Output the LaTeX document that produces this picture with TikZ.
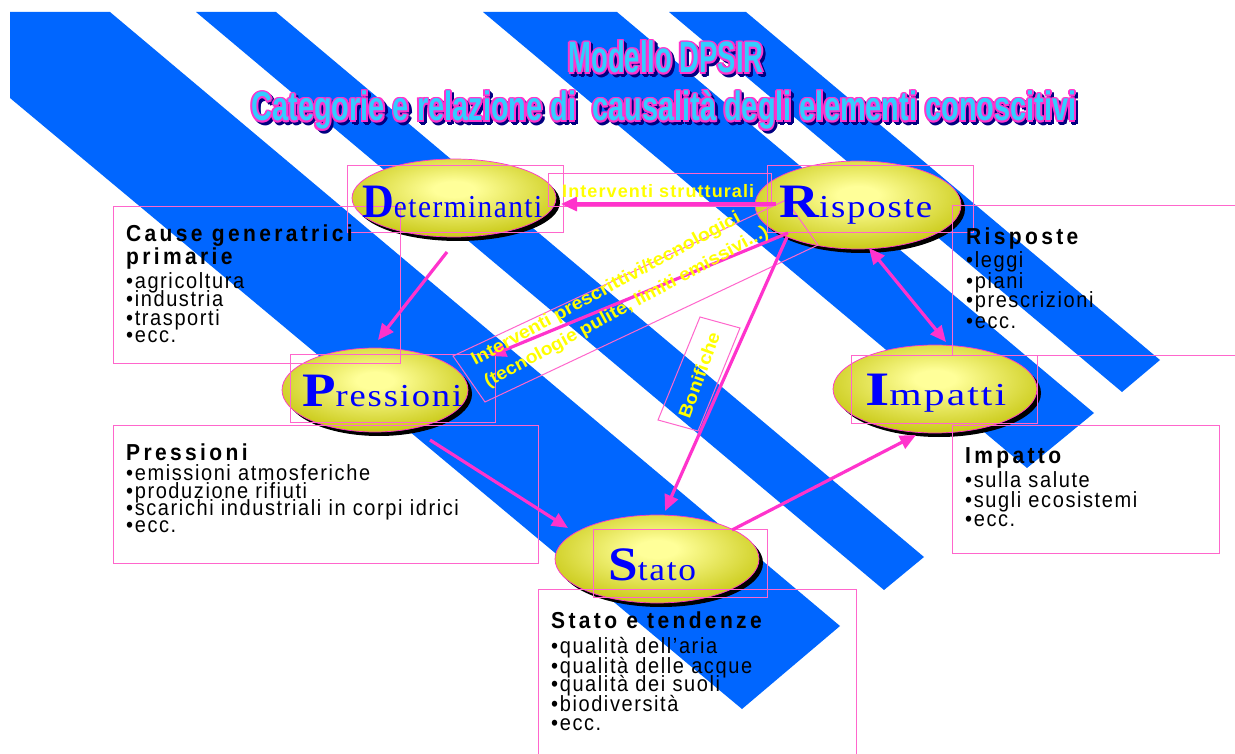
\documentclass[tikz,border=0pt]{standalone}
\usepackage{fontspec}
\usepackage{graphicx}
\setmainfont{Liberation Serif}
\newfontfamily\bodyf[LetterSpace=8]{Liberation Sans}
\newfontfamily\headf[LetterSpace=16]{Liberation Sans}
\newfontfamily\labf[LetterSpace=6]{Liberation Sans}
\newfontfamily\titf{Liberation Sans}
\newfontfamily\elf[LetterSpace=5]{Liberation Serif}
\usetikzlibrary{arrows.meta,shapes.geometric,shadows}
\definecolor{stripe}{HTML}{0066FF}
\definecolor{amag}{HTML}{FF33CC}
\definecolor{bmag}{HTML}{FF66CC}
\definecolor{ylab}{HTML}{FFFF00}
\definecolor{eblue}{HTML}{0000FF}
\definecolor{elin}{HTML}{FFFF99}
\definecolor{elout}{HTML}{C8C814}
\definecolor{tcyan}{HTML}{33CCFF}
\definecolor{tnavy}{HTML}{000080}
\pgfdeclareradialshading{elsh}{\pgfpoint{0bp}{6bp}}{color(0bp)=(elin);color(5bp)=(elin);color(30bp)=(elout);color(100bp)=(elout)}
\newcommand{\fitw}[2]{\resizebox{#1}{\height}{#2}}
\newcommand{\bt}[1]{\scalebox{1}[1.1]{#1}}
\newcommand{\titleA}{\fitw{195pt}{\titf\bfseries\fontsize{44}{44}\selectfont Modello DPSIR}}
\newcommand{\titleB}{\fitw{825pt}{\titf\bfseries\fontsize{41}{41}\selectfont Categorie e relazione di\ \ causalità degli elementi conoscitivi}}
\begin{document}
\begin{tikzpicture}[x=1pt,y=-1pt,
  ell/.style={ellipse, draw=amag, line width=0.7pt, shade, shading=elsh, inner sep=0,
    drop shadow={shadow xshift=4pt, shadow yshift=-4pt, opacity=1, fill=black}},
  tbox/.style={draw=bmag, line width=1pt},
  arr/.style={draw=amag, line width=3.2pt, -{Triangle[length=16pt,width=14pt]}},
  darr/.style={draw=amag, line width=3.2pt, {Triangle[length=16pt,width=14pt]}-{Triangle[length=16pt,width=14pt]}},
  etxt/.style={anchor=base west, inner sep=0, text=eblue},
  htxt/.style={anchor=base west, inner sep=0, font=\headf\bfseries\fontsize{21}{21}\selectfont},
  btxt/.style={anchor=base west, inner sep=0, font=\bodyf\fontsize{20}{20}\selectfont},
  ltxt/.style={inner sep=0, text=ylab, font=\labf\bfseries\fontsize{18}{18}\selectfont},
  rtxt/.style={inner sep=0, text=ylab, font=\titf\bfseries\fontsize{18}{18}\selectfont},
  tt/.style={anchor=base, inner sep=0}]
\useasboundingbox (0,0) rectangle (1235,754);
\fill[white] (0,0) rectangle (1235,754);
% stripes
\fill[stripe] (10,12) -- (110,12) -- (840,626) -- (742,709) -- (10,98) -- cycle;
\fill[stripe] (196,12) -- (276,12) -- (924,557) -- (884,590) -- cycle;
\fill[stripe] (483,12) -- (617,12) -- (1094,413) -- (1027,468) -- cycle;
\fill[stripe] (669,12) -- (746,12) -- (1160,360) -- (1122,392) -- cycle;
% title
\foreach \a in {0,45,...,315}{
  \node[tt,text=tnavy,shift={(\a:1.8)},xshift=2.5pt,yshift=-2.5pt] (tas\a) at (666,73) {\titleA};
  \node[tt,text=tnavy,shift={(\a:1.8)},xshift=2.5pt,yshift=-2.5pt] (tbs\a) at (664,121) {\titleB};
}
\foreach \a in {0,45,...,315}{
  \node[tt,text=amag,shift={(\a:1.8)}] (tam\a) at (666,73) {\titleA};
  \node[tt,text=amag,shift={(\a:1.8)}] (tbm\a) at (664,121) {\titleB};
}
\node[tt,text=tcyan] (titleA) at (666,73) {\titleA};
\node[tt,text=tcyan] (titleB) at (664,121) {\titleB};
% ellipses
\node[ell, minimum width=204pt, minimum height=78pt] (D) at (454,198) {};
\node[ell, minimum width=206pt, minimum height=88pt] (R) at (858,205) {};
\node[ell, minimum width=186pt, minimum height=84pt] (P) at (375,390) {};
\node[ell, minimum width=204pt, minimum height=88pt] (I) at (935,389) {};
\node[ell, minimum width=204pt, minimum height=88pt] (S) at (657,559) {};
% text rectangles
\draw[tbox] (347,166) rectangle (563,233);
\draw[tbox] (767,166) rectangle (973,233);
\draw[tbox] (290,354) rectangle (495,422);
\draw[tbox] (851,355) rectangle (1037,423);
\draw[tbox] (593,529) rectangle (767,597);
\draw[tbox] (548,174) rectangle (771,207);
\draw[tbox] (453,356) -- (786,200) -- (818,245) -- (485,402) -- cycle;
\draw[tbox] (700,317) -- (740,328) -- (698,431) -- (658,420) -- cycle;
% list boxes
\draw[tbox] (113,207) rectangle (400,363);
\draw[tbox] (113,425) rectangle (538,563);
\draw[tbox] (538,589) rectangle (856,765);
\draw[tbox] (952,206) rectangle (1245,355);
\draw[tbox] (952,425) rectangle (1219,553);
% arrows
\draw[arr] ([shift={(-7,54)}]D.center) -- ([shift={(3,-50)}]P.center);
\draw[arr] ([shift={(-82,-1)}]R.center) -- ([shift={(107,6)}]D.center);
\draw[arr] ([shift={(-70,28)}]R.center) -- ([shift={(115,-34)}]P.center);
\draw[arr] ([shift={(-71,32)}]R.center) -- ([shift={(8,-48)}]S.center);
\draw[arr] ([shift={(55,50)}]P.center) -- ([shift={(-89,-31)}]S.center);
\draw[arr] ([shift={(75,-29)}]S.center) -- ([shift={(-19,46)}]I.center);
\draw[darr] ([shift={(11,43)}]R.center) -- ([shift={(11,-47)}]I.center);
% ellipse labels
\node[etxt] (Dt) at (362,218) {\fitw{180pt}{{\fontsize{48}{48}\selectfont\bfseries D}\elf\fontsize{32}{32}\selectfont eterminanti}};
\node[etxt] (Rt) at (779,218) {\fitw{153pt}{{\fontsize{48}{48}\selectfont\bfseries R}\elf\fontsize{32}{32}\selectfont isposte}};
\node[etxt] (Pt) at (302,406) {\fitw{160pt}{{\fontsize{48}{48}\selectfont\bfseries P}\elf\fontsize{32}{32}\selectfont ressioni}};
\node[etxt] (It) at (865,405) {\fitw{141pt}{{\fontsize{48}{48}\selectfont\bfseries I}\elf\fontsize{32}{32}\selectfont mpatti}};
\node[etxt] (St) at (608,580) {\fitw{88pt}{{\fontsize{48}{48}\selectfont\bfseries S}\elf\fontsize{32}{32}\selectfont tato}};
% connector labels
\node[ltxt, anchor=base west] (lstr) at (562,198) {\fitw{192pt}{Interventi strutturali}};
\node[rtxt, anchor=base west, rotate=28.5] (lpr1) at (475,366) {\fitw{303pt}{Interventi prescrittivi/tecnologici}};
\node[rtxt, anchor=base west, rotate=28.5] (lpr2) at (488,388) {\fitw{320pt}{(tecnologie pulite, limiti emissivi...)}};
\node[rtxt, rotate=70] (lbon) at (699,375) {\fitw{90pt}{Bonifiche}};
% Cause box
\node[htxt] (c1) at (126,242) {\bt{Cause generatrici}};
\node[htxt] (c2) at (126,265) {\bt{primarie}};
\node[btxt] (c3) at (126,289) {\bt{•agricoltura}};
\node[btxt] (c4) at (126,307) {\bt{•industria}};
\node[btxt] (c5) at (126,325) {\bt{•trasporti}};
\node[btxt] (c6) at (126,342) {\bt{•ecc.}};
% Pressioni box
\node[htxt] (p1) at (126,460) {\bt{Pressioni}};
\node[btxt] (p2) at (126,480) {\bt{•emissioni atmosferiche}};
\node[btxt] (p3) at (126,498) {\bt{•produzione rifiuti}};
\node[btxt] (p4) at (126,515) {\bt{•scarichi industriali in corpi idrici}};
\node[btxt] (p5) at (126,532) {\bt{•ecc.}};
% Stato box
\node[htxt] (s1) at (551,628) {\bt{Stato e tendenze}};
\node[btxt] (s2) at (551,653) {\bt{•qualità dell’aria}};
\node[btxt] (s3) at (551,673) {\bt{•qualità delle acque}};
\node[btxt] (s4) at (551,691) {\bt{•qualità dei suoli}};
\node[btxt] (s5) at (551,711) {\bt{•biodiversità}};
\node[btxt] (s6) at (551,730) {\bt{•ecc.}};
% Risposte box
\node[htxt] (r1) at (966,245) {\bt{Risposte}};
\node[btxt] (r2) at (966,268) {\bt{•leggi}};
\node[btxt] (r3) at (966,288) {\bt{•piani}};
\node[btxt] (r4) at (966,308) {\bt{•prescrizioni}};
\node[btxt] (r5) at (966,328) {\bt{•ecc.}};
% Impatto box
\node[htxt] (i1) at (965,463) {\bt{Impatto}};
\node[btxt] (i2) at (965,487) {\bt{•sulla salute}};
\node[btxt] (i3) at (965,507) {\bt{•sugli ecosistemi}};
\node[btxt] (i4) at (965,526) {\bt{•ecc.}};
\end{tikzpicture}
\end{document}
